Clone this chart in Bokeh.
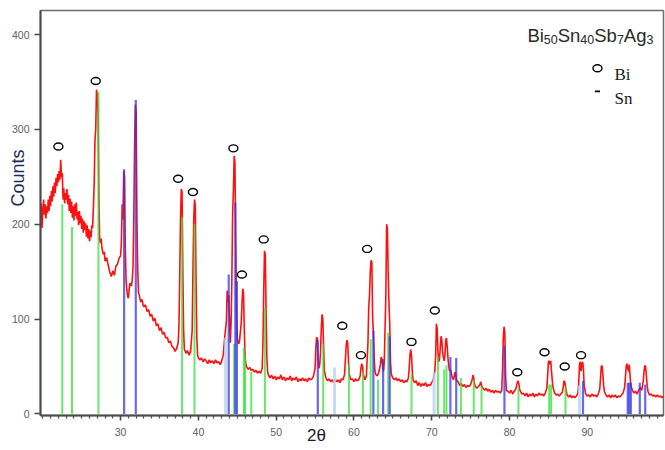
import math
from bokeh.plotting import figure
from bokeh.models import Label, FixedTicker, Range1d, LinearAxis
from bokeh.embed import file_html
from bokeh.resources import INLINE

# Measured XRD pattern of Bi50Sn40Sb7Ag3 (2-theta in degrees, intensity in counts)
two_theta = [
    19.8, 19.9, 20.0, 20.1, 20.2, 20.3, 20.4, 20.5, 20.6, 20.7, 20.8, 20.9,
    21.0, 21.1, 21.2, 21.3, 21.4, 21.5, 21.6, 21.7, 21.8, 21.9, 22.0, 22.1,
    22.2, 22.3, 22.4, 22.5, 22.6, 22.7, 22.8, 22.9, 23.0, 23.1, 23.2, 23.3,
    23.4, 23.5, 23.6, 23.7, 23.8, 23.9, 24.0, 24.1, 24.2, 24.3, 24.4, 24.5,
    24.6, 24.7, 24.8, 24.9, 25.0, 25.1, 25.2, 25.3, 25.4, 25.5, 25.6, 25.7,
    25.8, 25.9, 26.0, 26.1, 26.2, 26.3, 26.4, 26.5, 26.6, 26.7, 26.8, 26.9,
    27.0, 27.1, 27.2, 27.3, 27.4, 27.5, 27.6, 27.7, 27.8, 27.9, 28.0, 28.2,
    28.4, 28.6, 28.8, 29.0, 29.2, 29.4, 29.6, 29.8, 30.0, 30.1, 30.2, 30.3,
    30.4, 30.5, 30.6, 30.7, 30.8, 30.9, 31.0, 31.1, 31.2, 31.4, 31.5, 31.6,
    31.7, 31.8, 31.9, 32.0, 32.1, 32.2, 32.3, 32.4, 32.5, 32.6, 32.7, 32.8,
    32.9, 33.0, 33.2, 33.4, 33.6, 33.8, 34.0, 34.2, 34.4, 34.6, 34.8, 35.0,
    35.2, 35.4, 35.6, 35.8, 36.0, 36.2, 36.4, 36.6, 36.8, 37.0, 37.2, 37.4,
    37.5, 37.6, 37.7, 37.8, 37.9, 38.0, 38.1, 38.2, 38.4, 38.6, 38.8, 39.0,
    39.2, 39.3, 39.4, 39.5, 39.6, 39.7, 39.8, 39.9, 40.0, 40.2, 40.4, 40.6,
    40.8, 41.0, 41.2, 41.4, 41.6, 41.8, 42.0, 42.2, 42.4, 42.6, 42.8, 43.0,
    43.2, 43.4, 43.6, 43.7, 43.8, 43.9, 44.0, 44.1, 44.2, 44.3, 44.4, 44.5,
    44.6, 44.7, 44.8, 44.9, 45.0, 45.1, 45.2, 45.3, 45.5, 45.6, 45.7, 45.8,
    45.9, 46.0, 46.1, 46.2, 46.4, 46.6, 46.8, 47.0, 47.2, 47.4, 47.6, 47.8,
    48.0, 48.2, 48.3, 48.4, 48.5, 48.6, 48.7, 48.8, 48.9, 49.0, 49.2, 49.4,
    49.6, 49.8, 50.0, 50.2, 50.4, 50.6, 50.8, 51.0, 51.2, 51.4, 51.6, 51.8,
    52.0, 52.2, 52.4, 52.6, 52.8, 53.0, 53.2, 53.4, 53.6, 53.8, 54.0, 54.2,
    54.4, 54.6, 54.8, 55.0, 55.1, 55.2, 55.3, 55.4, 55.5, 55.6, 55.7, 55.8,
    55.9, 56.0, 56.1, 56.2, 56.4, 56.6, 56.8, 57.0, 57.2, 57.4, 57.6, 57.8,
    58.0, 58.2, 58.4, 58.6, 58.8, 58.9, 59.0, 59.1, 59.2, 59.3, 59.4, 59.6,
    59.8, 60.0, 60.2, 60.4, 60.6, 60.8, 60.9, 61.0, 61.1, 61.2, 61.4, 61.6,
    61.8, 61.9, 62.0, 62.1, 62.2, 62.3, 62.4, 62.5, 62.6, 62.7, 62.8, 63.0,
    63.2, 63.4, 63.5, 63.6, 63.7, 63.8, 63.9, 64.0, 64.1, 64.2, 64.3, 64.4,
    64.5, 64.6, 64.7, 64.8, 65.0, 65.2, 65.4, 65.6, 65.8, 66.0, 66.2, 66.4,
    66.6, 66.8, 67.0, 67.1, 67.2, 67.3, 67.4, 67.5, 67.6, 67.8, 68.0, 68.2,
    68.4, 68.6, 68.8, 69.0, 69.2, 69.4, 69.6, 69.8, 70.0, 70.2, 70.4, 70.5,
    70.6, 70.7, 70.8, 70.9, 71.0, 71.1, 71.2, 71.3, 71.4, 71.5, 71.6, 71.7,
    71.8, 71.9, 72.0, 72.1, 72.2, 72.3, 72.4, 72.5, 72.6, 72.7, 72.8, 72.9,
    73.0, 73.1, 73.2, 73.4, 73.6, 73.8, 74.0, 74.2, 74.4, 74.6, 74.8, 75.0,
    75.2, 75.3, 75.4, 75.5, 75.6, 75.8, 76.0, 76.2, 76.3, 76.4, 76.6, 76.8,
    77.0, 77.2, 77.4, 77.6, 77.8, 78.0, 78.2, 78.4, 78.6, 78.8, 79.0, 79.1,
    79.2, 79.3, 79.4, 79.5, 79.6, 79.8, 80.0, 80.2, 80.4, 80.6, 80.8, 81.0,
    81.1, 81.2, 81.3, 81.4, 81.6, 81.8, 82.0, 82.2, 82.4, 82.6, 82.8, 83.0,
    83.2, 83.4, 83.6, 83.8, 84.0, 84.2, 84.4, 84.6, 84.8, 84.9, 85.0, 85.1,
    85.2, 85.3, 85.4, 85.5, 85.6, 85.8, 86.0, 86.2, 86.4, 86.6, 86.8, 86.9,
    87.0, 87.1, 87.2, 87.3, 87.4, 87.6, 87.8, 88.0, 88.2, 88.4, 88.6, 88.8,
    88.9, 89.0, 89.1, 89.2, 89.3, 89.4, 89.5, 89.6, 89.8, 90.0, 90.2, 90.4,
    90.6, 90.8, 91.0, 91.2, 91.4, 91.6, 91.7, 91.8, 91.9, 92.0, 92.1, 92.2,
    92.4, 92.6, 92.8, 93.0, 93.2, 93.4, 93.6, 93.8, 94.0, 94.2, 94.4, 94.6,
    94.8, 94.9, 95.0, 95.1, 95.2, 95.3, 95.4, 95.5, 95.6, 95.8, 96.0, 96.2,
    96.4, 96.6, 96.8, 97.0, 97.2, 97.3, 97.4, 97.5, 97.6, 97.7, 97.8, 98.0,
    98.2, 98.4, 98.6, 98.8, 99.0, 99.2, 99.4, 99.6, 99.8,
]
counts = [
    222, 196, 214, 226, 210, 221, 206, 219, 212, 226, 214, 230,
    219, 235, 224, 240, 229, 244, 233, 249, 240, 253, 244, 256,
    247, 268, 250, 254, 226, 238, 222, 233, 226, 237, 221, 231,
    214, 227, 212, 224, 207, 219, 204, 221, 209, 223, 205, 213,
    199, 214, 201, 209, 195, 206, 191, 203, 194, 201, 187, 199,
    185, 195, 182, 193, 186, 199, 196, 218, 242, 288, 300, 342,
    336, 318, 232, 186, 180, 185, 175, 171, 168, 171, 161, 165,
    157, 150, 145, 151, 146, 156, 158, 164, 167, 181, 221, 205,
    256, 250, 178, 142, 131, 124, 122, 131, 138, 135, 142, 155,
    210, 285, 326, 318, 205, 152, 128, 125, 121, 118, 121, 119,
    114, 113, 115, 108, 110, 103, 105, 98, 101, 93, 95, 88,
    91, 84, 86, 80, 81, 75, 77, 71, 70, 66, 69, 75,
    92, 145, 205, 237, 234, 150, 88, 68, 64, 67, 62, 66,
    88, 150, 205, 226, 220, 140, 80, 62, 59, 57, 59, 55,
    58, 56, 53, 57, 54, 56, 53, 57, 54, 55, 52, 56,
    62, 82, 98, 130, 118, 125, 100, 75, 95, 140, 210, 235,
    272, 265, 180, 110, 80, 75, 74, 78, 95, 115, 132, 128,
    90, 60, 53, 50, 47, 49, 46, 47, 44, 46, 43, 45,
    43, 48, 75, 130, 172, 168, 110, 60, 45, 41, 38, 41,
    37, 40, 36, 39, 37, 41, 36, 39, 35, 38, 36, 40,
    35, 38, 36, 39, 34, 37, 35, 38, 35, 37, 34, 38,
    36, 37, 40, 48, 70, 81, 79, 55, 48, 52, 65, 90,
    105, 100, 70, 45, 38, 35, 37, 34, 36, 33, 36, 34,
    36, 33, 37, 36, 42, 58, 72, 78, 75, 55, 42, 36,
    37, 34, 37, 35, 36, 40, 48, 53, 50, 42, 36, 40,
    75, 112, 125, 150, 162, 160, 103, 85, 60, 45, 42, 40,
    44, 52, 60, 58, 50, 45, 55, 90, 125, 200, 195, 150,
    118, 95, 55, 42, 38, 36, 38, 35, 37, 34, 36, 33,
    35, 34, 38, 48, 62, 68, 62, 45, 36, 33, 35, 30,
    33, 29, 32, 30, 33, 29, 31, 30, 33, 36, 45, 60,
    95, 90, 65, 55, 58, 70, 82, 78, 65, 60, 56, 62,
    78, 80, 70, 58, 50, 45, 47, 44, 40, 38, 36, 40,
    44, 41, 35, 34, 30, 32, 29, 31, 28, 30, 29, 31,
    36, 41, 38, 32, 29, 27, 29, 31, 34, 30, 27, 25,
    27, 24, 26, 23, 25, 22, 25, 23, 24, 22, 25, 45,
    80, 92, 85, 40, 25, 24, 22, 25, 21, 24, 26, 33,
    35, 32, 26, 24, 21, 22, 19, 22, 18, 21, 19, 22,
    18, 21, 19, 22, 20, 21, 19, 22, 27, 40, 55, 56,
    52, 56, 45, 35, 28, 22, 20, 21, 19, 21, 23, 28,
    35, 34, 29, 24, 20, 18, 20, 17, 19, 17, 19, 22,
    32, 52, 55, 45, 53, 55, 48, 30, 21, 19, 20, 18,
    21, 19, 20, 18, 21, 26, 38, 50, 51, 42, 30, 24,
    20, 18, 20, 17, 20, 18, 20, 17, 19, 18, 20, 22,
    28, 38, 50, 53, 48, 45, 52, 40, 30, 25, 22, 24,
    21, 25, 28, 25, 35, 45, 51, 50, 40, 30, 24, 20,
    21, 19, 20, 18, 20, 18, 19, 17, 19,
]

# Reference stick patterns (position, relative intensity in counts)
bi_ref_pos = [22.5, 23.75, 27.15, 37.9, 39.5, 44.6, 45.85, 46.0, 46.8, 48.55,
              56.05, 59.35, 61.15, 62.15, 63.1, 64.4, 67.4, 70.8, 71.6, 71.9,
              73.75, 75.4, 76.4, 81.15, 85.1, 85.35, 87.2]
bi_ref_int = [221, 197, 340, 207, 200, 74, 70, 60, 45, 112,
              74, 52, 45, 79, 36, 86, 42, 61, 47, 51,
              38, 36, 29, 27, 31, 31, 29]
sn_ref_pos = [30.45, 31.95, 43.9, 44.75, 44.95, 55.35, 62.5, 63.75, 64.6, 72.4,
              73.15, 79.35, 89.45, 95.2, 95.4, 95.6, 96.75, 97.45]
sn_ref_int = [258, 331, 147, 223, 140, 78, 88, 58, 82, 60,
              59, 72, 35, 33, 33, 33, 33, 31]
aux_ref_pos = [43.5, 57.5, 70.3, 89.0]
aux_ref_int = [80, 49, 44, 30]

# Peaks identified as Bi (open circles above the peaks)
bi_mark_pos = [22.0, 26.8, 37.4, 39.3, 44.5, 45.6, 48.4, 58.5, 60.9, 61.7,
               67.4, 70.4, 81.0, 84.5, 87.1, 89.2]
bi_mark_cnt = [282, 351, 248, 234, 280, 147, 184, 93, 62, 174,
               76, 109, 44, 65, 50, 62]

x_ticks = [30, 40, 50, 60, 70, 80, 90]
x_minor_ticks = list(range(20, 100))
y_ticks = [0, 100, 200, 300, 400]

SANS = "Liberation Sans"
SERIF = "Liberation Serif"
AXIS_GREY = "#4a4a4a"
NBSP = "\u00a0"   # non-collapsing padding used to slide axis titles along their axis

p = figure(width=665, height=450,
           x_range=Range1d(19.7, 99.8), y_range=Range1d(-1.6, 425.3),
           output_backend="svg", toolbar_location=None,
           min_border_left=40, min_border_right=2,
           min_border_top=10, min_border_bottom=35)
p.background_fill_color = "white"
p.border_fill_color = "white"
p.xgrid.visible = False
p.ygrid.visible = False
p.outline_line_color = "#6e6e6e"
p.outline_line_width = 1.5

xa = p.xaxis[0]
xa.ticker = FixedTicker(ticks=x_ticks, minor_ticks=x_minor_ticks)
xa.axis_line_color = AXIS_GREY
xa.axis_line_width = 2
xa.major_tick_line_color = AXIS_GREY
xa.major_tick_line_width = 1.5
xa.major_tick_out = 5
xa.major_tick_in = 0
xa.minor_tick_line_color = AXIS_GREY
xa.minor_tick_line_width = 1.2
xa.minor_tick_out = 3
xa.minor_tick_in = 0
xa.major_label_text_font = SANS
xa.major_label_text_font_size = "10.5px"
xa.major_label_text_color = "#5c5c5c"
xa.major_label_standoff = 7

ya = p.yaxis[0]
ya.ticker = FixedTicker(ticks=y_ticks)
ya.axis_line_color = AXIS_GREY
ya.axis_line_width = 2
ya.major_tick_line_color = AXIS_GREY
ya.major_tick_line_width = 1.5
ya.major_tick_out = 6
ya.major_tick_in = 0
ya.minor_tick_line_color = None
ya.major_label_text_font = SANS
ya.major_label_text_font_size = "10.5px"
ya.major_label_text_color = "#5c5c5c"
ya.major_label_standoff = 5


def title_axis(label, size, color, standoff):
    """Tick-less axis that only carries a title (pulled in by a negative standoff)."""
    return LinearAxis(ticker=FixedTicker(ticks=[]),
                      axis_line_color=None, major_tick_out=0, major_tick_in=0,
                      minor_tick_out=0, minor_tick_in=0,
                      axis_label=label, axis_label_standoff=standoff,
                      axis_label_text_font=SANS, axis_label_text_font_size=size,
                      axis_label_text_font_style="normal",
                      axis_label_text_color=color)


# "Counts" sits a little above the middle of the y axis, "2θ" left of centre
p.add_layout(title_axis(NBSP * 14 + "Counts", "18px", "#1c2a55", -19), "left")
p.add_layout(title_axis("2θ" + NBSP * 15, "17px", "#1a1a30", -13), "below")

# measured pattern
p.line(two_theta, counts, line_color="#ff1010", line_width=1.6)

# reference sticks, drawn over the pattern
p.segment(x0=aux_ref_pos, y0=[0] * len(aux_ref_pos), x1=aux_ref_pos, y1=aux_ref_int,
          line_color="#b9d2f2", line_width=3, line_alpha=0.8)
p.segment(x0=bi_ref_pos, y0=[0] * len(bi_ref_pos), x1=bi_ref_pos, y1=bi_ref_int,
          line_color="#35e035", line_width=2, line_alpha=0.75)
p.segment(x0=sn_ref_pos, y0=[0] * len(sn_ref_pos), x1=sn_ref_pos, y1=sn_ref_int,
          line_color="#3535e8", line_width=2.2, line_alpha=0.75)

# Bi peak markers
p.ellipse(x=bi_mark_pos, y=bi_mark_cnt, width=9, height=7,
          width_units="screen", height_units="screen",
          fill_color="white", line_color="black", line_width=1.4)

# alloy name with subscripted composition
ARIAL_ADV = {"B": 667, "i": 222, "S": 667, "n": 556, "b": 556, "A": 667, "g": 556,
             "0": 556, "3": 556, "4": 556, "5": 556, "7": 556}
name_parts = [("Bi", False), ("50", True), ("Sn", False), ("40", True),
              ("Sb", False), ("7", True), ("Ag", False), ("3", True)]
main_size, sub_size = 18.5, 12.5
offset = 0.0
for txt, is_sub in name_parts:
    size = sub_size if is_sub else main_size
    p.add_layout(Label(x=82.3, y=394.6 if is_sub else 398.9, x_offset=offset,
                       text=txt, text_font=SANS, text_font_size=f"{size}px",
                       text_color="#2a2a2a", text_baseline="alphabetic"))
    offset += sum(ARIAL_ADV[c] for c in txt) * size / 1000

# legend
p.ellipse(x=[91.31], y=[364.5], width=9, height=7,
          width_units="screen", height_units="screen",
          fill_color="white", line_color="black", line_width=1.4)
p.segment(x0=[90.98], y0=[340.0], x1=[91.64], y1=[340.0],
          line_color="black", line_width=1.6)
p.add_layout(Label(x=93.5, y=357.5, text="Bi", text_font=SERIF,
                   text_font_size="17px", text_color="#1a1a1a",
                   text_baseline="alphabetic"))
p.add_layout(Label(x=93.5, y=332.2, text="Sn", text_font=SERIF,
                   text_font_size="17px", text_color="#1a1a1a",
                   text_baseline="alphabetic"))

open("out.html", "w").write(file_html(p, INLINE))
